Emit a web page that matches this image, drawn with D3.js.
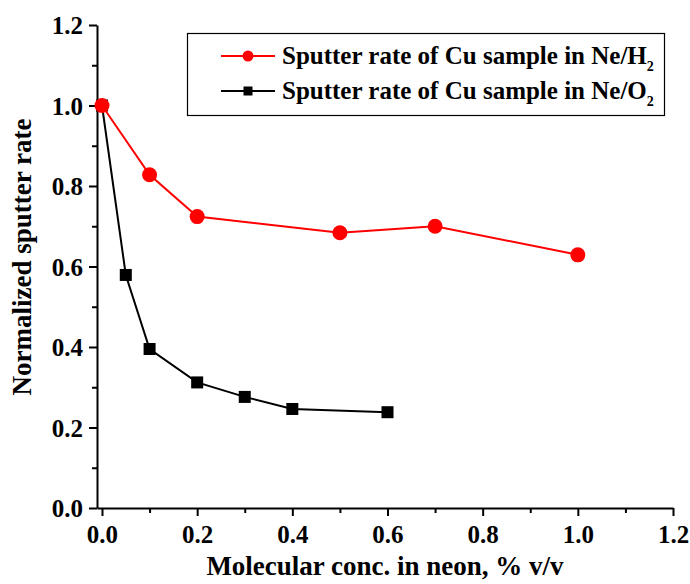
<!DOCTYPE html>
<html lang="en">
<head>
<meta charset="UTF-8">
<title>Sputter rate</title>
<script src="https://cdn.jsdelivr.net/npm/d3@7"></script>
<style>
  body { margin: 0; background: #fff; }
  svg text { font-family: "Liberation Serif", "Times New Roman", serif; font-weight: bold; fill: #000; }
  .tick-label { font-size: 25px; }
  .axis-title { font-size: 27px; }
  .legend-text { font-size: 25px; }
</style>
</head>
<body>
<svg id="chart" width="690" height="584"></svg>
<script>
// data
var h2Conc = [0, 0.1, 0.2, 0.5, 0.7, 1.0]
var h2Rate = [1.0, 0.828, 0.724, 0.684, 0.700, 0.629]
var o2Conc = [0, 0.05, 0.1, 0.2, 0.3, 0.4, 0.6]
var o2Rate = [1.0, 0.579, 0.395, 0.312, 0.276, 0.246, 0.238]
var xTicks = [0.0, 0.2, 0.4, 0.6, 0.8, 1.0, 1.2]
var yTicks = [0.0, 0.2, 0.4, 0.6, 0.8, 1.0, 1.2]
var xMinor = [0.1, 0.3, 0.5, 0.7, 0.9, 1.1]
var yMinor = [0.1, 0.3, 0.5, 0.7, 0.9, 1.1]

var svg = d3.select('#chart')

// scales (x axis starts a hair left of zero, like the original)
var x = d3.scaleLinear().domain([-0.0105, 1.2]).range([97, 673])
var y = d3.scaleLinear().domain([0, 1.2]).range([508, 25])

// x axis
var gx = svg.append('g').attr('transform', 'translate(0,508)')
gx.call(d3.axisBottom(x).tickValues(xTicks).tickSize(8).tickSizeOuter(0).tickFormat(d3.format('.1f')))
var gxMinor = svg.append('g').attr('transform', 'translate(0,508)')
gxMinor.call(d3.axisBottom(x).tickValues(xMinor).tickSize(5).tickSizeOuter(0).tickFormat(''))
gxMinor.select('.domain').remove()

// y axis
var gy = svg.append('g').attr('transform', 'translate(97,0)')
gy.call(d3.axisLeft(y).tickValues(yTicks).tickSize(8).tickSizeOuter(0).tickFormat(d3.format('.1f')))
var gyMinor = svg.append('g').attr('transform', 'translate(97,0)')
gyMinor.call(d3.axisLeft(y).tickValues(yMinor).tickSize(5).tickSizeOuter(0).tickFormat(''))
gyMinor.select('.domain').remove()

svg.selectAll('.domain').attr('stroke', '#000').attr('stroke-width', 2)
svg.selectAll('.tick line').attr('stroke', '#000').attr('stroke-width', 2)
svg.selectAll('g').attr('font-size', null).attr('font-family', null)
svg.selectAll('.tick text').attr('class', 'tick-label')
gx.selectAll('.tick text').attr('dy', null).attr('y', 35)
gy.selectAll('.tick text').attr('x', -14).attr('dy', '0.34em')

// axis titles
svg.append('text').attr('class', 'axis-title')
  .attr('x', 385).attr('y', 575)
  .attr('text-anchor', 'middle')
  .text('Molecular conc. in neon, % v/v')
svg.append('text').attr('class', 'axis-title')
  .attr('transform', 'translate(31,257) rotate(-90)')
  .attr('text-anchor', 'middle')
  .text('Normalized sputter rate')

var line = d3.line().x(function (d) { return x(d[0]) }).y(function (d) { return y(d[1]) })

var h2 = h2Conc.map(function (c, i) { return [c, h2Rate[i]] })
var o2 = o2Conc.map(function (c, i) { return [c, o2Rate[i]] })

// O2 series (black squares)
svg.append('path').datum(o2).attr('d', line)
  .attr('fill', 'none').attr('stroke', '#000').attr('stroke-width', 2)
svg.selectAll('.sq').data(o2).enter().append('rect')
  .attr('x', function (d) { return x(d[0]) - 6 })
  .attr('y', function (d) { return y(d[1]) - 6 })
  .attr('width', 12).attr('height', 12)
  .attr('fill', '#000')

// H2 series (red circles)
svg.append('path').datum(h2).attr('d', line)
  .attr('fill', 'none').attr('stroke', '#ff0000').attr('stroke-width', 2)
svg.selectAll('.dot').data(h2).enter().append('circle')
  .attr('cx', function (d) { return x(d[0]) })
  .attr('cy', function (d) { return y(d[1]) })
  .attr('r', 7.5)
  .attr('fill', '#ff0000')

// legend
var lg = svg.append('g')
lg.append('rect').attr('x', 187.5).attr('y', 33.5).attr('width', 477).attr('height', 82)
  .attr('fill', '#fff').attr('stroke', '#000').attr('stroke-width', 1.2)

var items = [
  { color: '#ff0000', shape: 'circle', gas: 'H', y: 56 },
  { color: '#000', shape: 'square', gas: 'O', y: 91 }
]
items.forEach(function (it) {
  lg.append('line').attr('x1', 221).attr('x2', 275).attr('y1', it.y).attr('y2', it.y)
    .attr('stroke', it.color).attr('stroke-width', 2)
  if (it.shape === 'circle') {
    lg.append('circle').attr('cx', 248).attr('cy', it.y).attr('r', 5.5).attr('fill', it.color)
  } else {
    lg.append('rect').attr('x', 243.5).attr('y', it.y - 4.5).attr('width', 9).attr('height', 9).attr('fill', it.color)
  }
  var t = lg.append('text').attr('class', 'legend-text').attr('x', 282).attr('y', it.y + 8)
  t.append('tspan').text('Sputter rate of Cu sample in Ne/' + it.gas)
  t.append('tspan').attr('dy', 7).attr('font-size', '14px').text('2')
})
</script>
</body>
</html>
